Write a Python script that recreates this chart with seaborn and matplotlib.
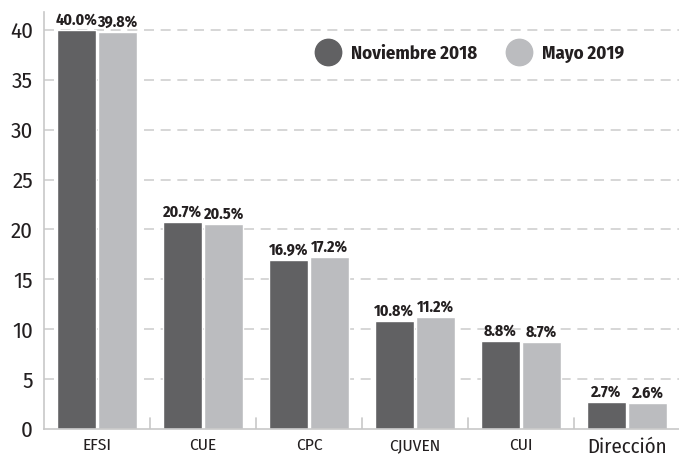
import matplotlib
matplotlib.use("Agg")
import matplotlib.pyplot as plt
from matplotlib import font_manager
from matplotlib.lines import Line2D
import seaborn as sns
import pandas as pd

categories = ["EFSI", "CUE", "CPC", "CJUVEN", "CUI", "Dirección"]
series_names = ["Noviembre 2018", "Mayo 2019"]
nov_2018 = [40.0, 20.7, 16.9, 10.8, 8.8, 2.7]
mayo_2019 = [39.8, 20.5, 17.2, 11.2, 8.7, 2.6]
y_ticks = [0, 5, 10, 15, 20, 25, 30, 35, 40]

colors = ["#616163", "#bbbcbf"]

sns.set_theme(style="white")
names = {f.name for f in font_manager.fontManager.ttflist}
fam = "DejaVu Sans"
for cand in ["Fira Sans Condensed", "Roboto Condensed", "Open Sans Condensed"]:
    if cand in names:
        fam = cand
        break
plt.rcParams["font.family"] = [fam, "DejaVu Sans"]
plt.rcParams["font.stretch"] = "condensed"

df = pd.DataFrame({
    "cat": categories * 2,
    "serie": [series_names[0]] * len(categories) + [series_names[1]] * len(categories),
    "val": nov_2018 + mayo_2019,
})

fig = plt.figure(figsize=(6.79, 4.57), dpi=100)
ax = fig.add_axes([44 / 679, 28 / 457, 636 / 679, 417 / 457])

sns.barplot(data=df, x="cat", y="val", hue="serie", order=categories,
            hue_order=series_names, palette=colors, width=0.78, gap=0.07,
            saturation=1, legend=False, ax=ax)

for cont in ax.containers:
    ax.bar_label(cont, labels=[f"{v:.1f}%" for v in cont.datavalues],
                 padding=1.5, fontsize=11.5, fontweight="bold", color="#231f20")

ax.set_xlim(-0.5, len(categories) - 0.5)
ax.set_ylim(0, 41.8)
ax.set_yticks(y_ticks)
ax.set_yticklabels([str(t) for t in y_ticks], fontsize=16.5, color="#231f20")
ax.set_xlabel("")
ax.set_ylabel("")
ax.set_xticks(range(len(categories)))
ax.set_xticklabels(categories, fontsize=12.5, color="#231f20")
ax.get_xticklabels()[-1].set_fontsize(15)
ax.tick_params(axis="x", length=0, pad=6)
ax.tick_params(axis="y", length=0, pad=8)

# boundary tick marks
for b in range(1, len(categories)):
    ax.plot([b - 0.5, b - 0.5], [0, 1.1], color="#c8c8c8", lw=1.2, zorder=0)

for t in y_ticks[1:]:
    ax.axhline(t, color="#cfcfcf", lw=1.2, ls=(0, (6, 4)), zorder=0)

for s in ["top", "right"]:
    ax.spines[s].set_visible(False)
ax.spines["left"].set_color("#c8c8c8")
ax.spines["bottom"].set_color("#c8c8c8")
ax.spines["left"].set_linewidth(1.2)
ax.spines["bottom"].set_linewidth(1.2)

handles = [Line2D([0], [0], marker="o", ls="", markersize=19,
                  markerfacecolor=c, markeredgecolor=c) for c in colors]
leg = ax.legend(handles, series_names, ncol=2, frameon=False,
                loc="center left", bbox_to_anchor=(258 / 636, (429 - 54) / 417),
                prop={"weight": "bold", "size": 13.5},
                handletextpad=0.2, columnspacing=1.25, borderaxespad=0)
for t in leg.get_texts():
    t.set_color("#231f20")

fig.savefig("out.png", dpi=100)
